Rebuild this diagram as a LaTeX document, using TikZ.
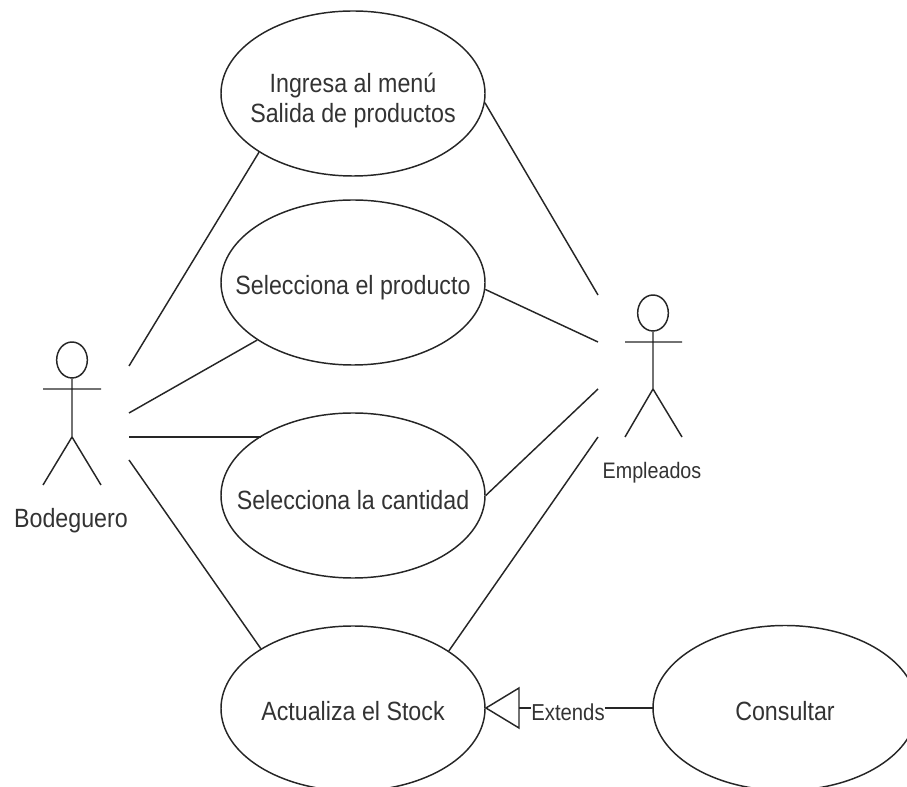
\documentclass[tikz,border=0pt]{standalone}
\usepackage{fontspec}
\setmainfont[FakeStretch=0.88]{Liberation Sans}
\usetikzlibrary{shapes.geometric}
\newcommand{\lineofcase}[2][-9.3pt]{\smash{\makebox[0pt]{\raisebox{#1}{#2}}}}
\tikzset{
  usecase/.style={draw=black!85,line width=1.1pt,ellipse,inner sep=0pt,minimum width=198pt,minimum height=123.75pt,align=center,font=\fontsize{19.8}{22.5}\selectfont,text=black!80},
  link/.style={draw=black!85,line width=1.1pt},
  actorlabel/.style={inner sep=0pt,font=\fontsize{19.8}{22}\selectfont,text=black!80},
  stick/.style={draw=black!85,line width=1.1pt}
}
\begin{document}
\begin{tikzpicture}[x=0.75pt,y=-0.75pt]
\useasboundingbox (0,0) rectangle (907,787);
\clip (0,0) rectangle (907,787);
\node[usecase] (e1) at (353,93.5) {\lineofcase[-10.2pt]{Ingresa al menú}\\\lineofcase[-10.2pt]{Salida de productos}};
\node[usecase] (e2) at (353,282.5) {\lineofcase{Selecciona el producto}};
\node[usecase] (e3) at (353,495.5) {\lineofcase[-10.7pt]{Selecciona la cantidad}};
\node[usecase] (e4) at (353,708.5) {\lineofcase{Actualiza el Stock}};
\node[usecase] (e5) at (785,708) {\lineofcase{Consultar}};
% actor Bodeguero
\node[stick,ellipse,inner sep=0pt,minimum width=23pt,minimum height=27pt] (h1) at (72,360) {};
\coordinate (a1l) at (43,389); \coordinate (a1r) at (101,389);
\coordinate (a1c) at (72,437);
\coordinate (a1f) at (43,485); \coordinate (a1g) at (101,485);
\draw[stick] (h1.south) -- (a1c) (a1l) -- (a1r) (a1f) -- (a1c) -- (a1g);
\node[actorlabel] (l1) at (71,521) {Bodeguero};
% actor Empleados
\node[stick,ellipse,inner sep=0pt,minimum width=23pt,minimum height=27pt] (h2) at (653,313) {};
\coordinate (a2l) at (625,342); \coordinate (a2r) at (682,342);
\coordinate (a2c) at (653,389);
\coordinate (a2f) at (625,437); \coordinate (a2g) at (682,437);
\draw[stick] (h2.south) -- (a2c) (a2l) -- (a2r) (a2f) -- (a2c) -- (a2g);
\node[actorlabel,font=\fontsize{16.8}{20}\selectfont] (l2) at (652,473) {Empleados};
% free ends
\coordinate (p1) at (129,366); \coordinate (p2) at (129,413);
\coordinate (p3) at (129,437); \coordinate (p4) at (129,460);
\coordinate (q1) at (598,295); \coordinate (q2) at (598,342);
\coordinate (q3) at (598,389); \coordinate (q4) at (598,437);
\draw[link] (p1) -- (e1.212.7);
\draw[link] (p2) -- (e2.211);
\draw[link] (p3) -- (p3 -| e3.147.8);
\draw[link] (p4) -- (e4.147.3);
\draw[link] (e1.-4.3) -- (q1);
\draw[link] (e2.-3.7) -- (q2);
\draw[link] (e3.0.6) -- (q3);
\draw[link] (e4.31.7) -- (q4);
% extends
\coordinate (tip) at (486,708);
\coordinate (t1) at (519,688); \coordinate (t2) at (519,728);
\coordinate (tb) at (519,708);
\coordinate (ce) at (653,708);
\draw[link,line join=miter] (tip) -- (t1) -- (t2) -- cycle;
\node[inner sep=0pt,font=\fontsize{17.3}{20}\selectfont,text=black!80] (x) at (568,712) {Extends};
\draw[link] (tb) -- (tb -| x.west);
\draw[link] (ce -| x.east) -- (ce);
\end{tikzpicture}
\end{document}
